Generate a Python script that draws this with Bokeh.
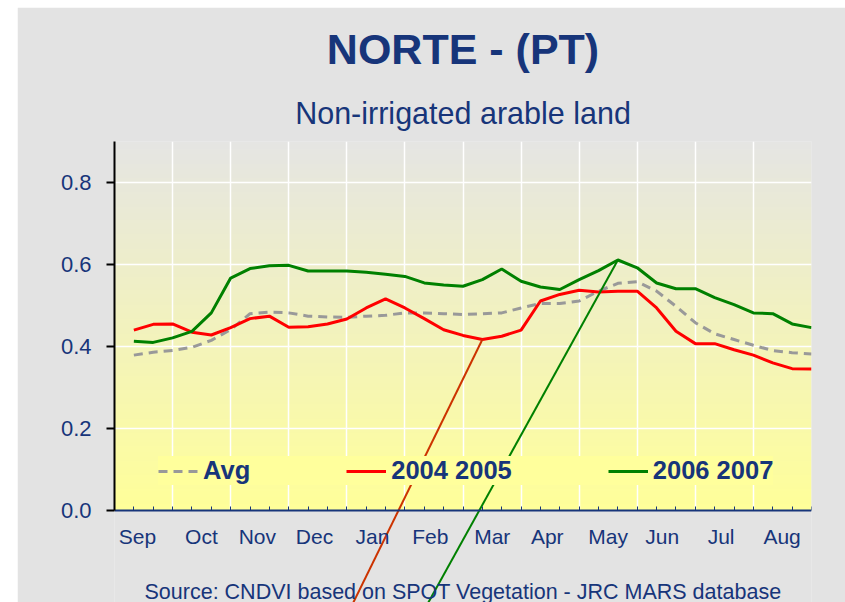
import numpy as np
from bokeh.plotting import figure
from bokeh.models import Range1d, FixedTicker, PrintfTickFormatter, Title, Label
from bokeh.embed import file_html
from bokeh.resources import INLINE

# ---------------- data (dekads Sep .. Aug) ----------------
months = ["Sep", "Oct", "Nov", "Dec", "Jan", "Feb", "Mar", "Apr", "May", "Jun", "Jul", "Aug"]
dekads = list(range(1, 37))
avg = [0.379, 0.386, 0.390, 0.398, 0.415, 0.441, 0.480, 0.484, 0.482, 0.474, 0.472, 0.471,
       0.474, 0.476, 0.482, 0.482, 0.480, 0.478, 0.480, 0.482, 0.494, 0.505, 0.505, 0.511,
       0.535, 0.554, 0.558, 0.535, 0.498, 0.458, 0.431, 0.417, 0.403, 0.390, 0.385, 0.382]
s2004_2005 = [0.440, 0.454, 0.455, 0.435, 0.428, 0.446, 0.468, 0.474, 0.447, 0.448, 0.455, 0.467,
              0.494, 0.516, 0.494, 0.468, 0.441, 0.427, 0.417, 0.425, 0.440, 0.511, 0.527, 0.537,
              0.533, 0.535, 0.535, 0.494, 0.437, 0.407, 0.407, 0.392, 0.379, 0.360, 0.346, 0.345]
s2006_2007 = [0.413, 0.410, 0.421, 0.437, 0.482, 0.567, 0.590, 0.597, 0.598, 0.584, 0.584, 0.584,
              0.581, 0.576, 0.571, 0.555, 0.550, 0.547, 0.563, 0.589, 0.559, 0.545, 0.539, 0.563,
              0.585, 0.611, 0.592, 0.555, 0.541, 0.541, 0.519, 0.502, 0.482, 0.480, 0.455, 0.446]
y_ticks = [0.0, 0.2, 0.4, 0.6, 0.8]
# leader lines: from a series point (dekad) down to an off-chart label
leader_dekads = [19, 26]
leader_end_x = [12.07, 15.91]
leader_end_y = -0.25

# ---------------- styling / layout ----------------
# month label anchor positions along the dekad axis (layout)
MONTH_LABEL_POS = [1.19, 4.49, 7.38, 10.33, 13.32, 16.31, 19.51, 22.35, 25.5, 28.29, 31.33, 34.48]
NAVY = "#17357A"
BG = "#E3E3E3"
FONT = "Liberation Sans"
W, H = 828, 595
FRAME_L, FRAME_R, FRAME_T = 97, 794, 134
Y_TOP = 0.9
PX_PER_UNIT = 410.0
Y_ZERO_PX = FRAME_T + Y_TOP * PX_PER_UNIT
y_bottom = -(H - Y_ZERO_PX) / PX_PER_UNIT

p = figure(width=W, height=H, output_backend="svg", toolbar_location=None,
           x_range=Range1d(0, 36), y_range=Range1d(y_bottom, Y_TOP),
           min_border_left=FRAME_L, min_border_right=W - FRAME_R,
           min_border_top=FRAME_T, min_border_bottom=0,
           background_fill_color=BG, border_fill_color=BG,
           outline_line_color=None, title=None)
p.margin = (7, 0, 0, 17)

# titles
sub = Title(text="Non-irrigated arable land", align="center", text_font=FONT,
            text_font_size="30.5px", text_font_style="normal", text_color=NAVY, standoff=23)
p.add_layout(sub, "above")
main = Title(text="NORTE - (PT)", align="center", text_font=FONT,
             text_font_size="43px", text_font_style="bold", text_color=NAVY, standoff=19)
p.add_layout(main, "above")

# gradient plot area
N = 256
t = np.linspace(0.0, 1.0, N)[:, None]
c_bot = np.array([255, 255, 153], dtype=float)
c_top = np.array([229, 229, 227], dtype=float)
rgb = c_bot + (c_top - c_bot) * t
img = np.empty((N, 1), dtype=np.uint32)
view = img.view(dtype=np.uint8).reshape((N, 1, 4))
view[:, :, 0] = rgb[:, 0:1].round().astype(np.uint8)
view[:, :, 1] = rgb[:, 1:2].round().astype(np.uint8)
view[:, :, 2] = rgb[:, 2:3].round().astype(np.uint8)
view[:, :, 3] = 255
p.image_rgba(image=[img], x=0, y=0, dw=36, dh=Y_TOP, level="image")

# grids
p.ygrid.ticker = FixedTicker(ticks=y_ticks[1:])
p.ygrid.grid_line_color = "white"
p.ygrid.grid_line_width = 1.5
p.xgrid.ticker = FixedTicker(ticks=list(range(3, 37, 3)))
p.xgrid.grid_line_color = "white"
p.xgrid.grid_line_width = 1.5

# cover area below zero (outside plot area)
p.quad(left=[0], right=[36], bottom=[y_bottom - 1], top=[0], fill_color=BG, line_color=None)

# series
r_avg = p.line(dekads, avg, line_color="#999999", line_width=3, line_dash="9 6", legend_label="Avg")
r_red = p.line(dekads, s2004_2005, line_color="#FF0000", line_width=3, legend_label="2004 2005")
r_grn = p.line(dekads, s2006_2007, line_color="#008000", line_width=3, legend_label="2006 2007")

# leader lines
lx0 = leader_dekads
ly0 = [s2004_2005[leader_dekads[0] - 1], s2006_2007[leader_dekads[1] - 1]]
p.segment(x0=lx0, y0=ly0, x1=leader_end_x, y1=[leader_end_y, leader_end_y],
          line_color=["#CC3300", "#008000"], line_width=2)

# axes
xa = p.xaxis[0]
xa.fixed_location = 0
xa.ticker = FixedTicker(ticks=MONTH_LABEL_POS, minor_ticks=list(range(0, 37)))
xa.major_label_overrides = {pos: m for pos, m in zip(MONTH_LABEL_POS, months)}
xa.axis_line_color = NAVY
xa.axis_line_width = 2
xa.major_tick_line_color = None
xa.major_tick_in = 0
xa.major_tick_out = 0
xa.minor_tick_line_color = NAVY
xa.minor_tick_in = 4
xa.minor_tick_out = 0
xa.minor_tick_line_width = 1
xa.major_label_text_font = FONT
xa.major_label_text_font_size = "21px"
xa.major_label_text_color = NAVY
xa.major_label_standoff = 14

ya = p.yaxis[0]
ya.ticker = FixedTicker(ticks=y_ticks)
ya.formatter = PrintfTickFormatter(format="%.1f")
ya.bounds = (0, Y_TOP)
ya.axis_line_color = "black"
ya.axis_line_width = 2
ya.major_tick_line_color = "black"
ya.major_tick_line_width = 2
ya.major_tick_in = 0
ya.major_tick_out = 8
ya.minor_tick_line_color = None
ya.major_label_text_font = FONT
ya.major_label_text_font_size = "22px"
ya.major_label_text_color = NAVY
ya.major_label_standoff = 15

# legend
lg = p.legend[0]
lg.orientation = "horizontal"
lg.location = (44, 117)
lg.padding = 4
lg.margin = 0
lg.spacing = 96
lg.glyph_width = 40
lg.glyph_height = 26
lg.label_height = 26
lg.label_standoff = 5
lg.label_text_font = FONT
lg.label_text_font_size = "25.5px"
lg.label_text_font_style = "bold"
lg.label_text_color = NAVY
lg.background_fill_color = "#FFFF9C"
lg.background_fill_alpha = 1.0
lg.border_line_color = None

# source
src = Label(x=18, y=-(584 - Y_ZERO_PX) / PX_PER_UNIT,
            text="Source: CNDVI based on SPOT Vegetation - JRC MARS database",
            text_align="center", text_baseline="alphabetic", text_font=FONT,
            text_font_size="21.5px", text_color=NAVY)
p.add_layout(src)

open("out.html", "w").write(file_html(p, INLINE))
